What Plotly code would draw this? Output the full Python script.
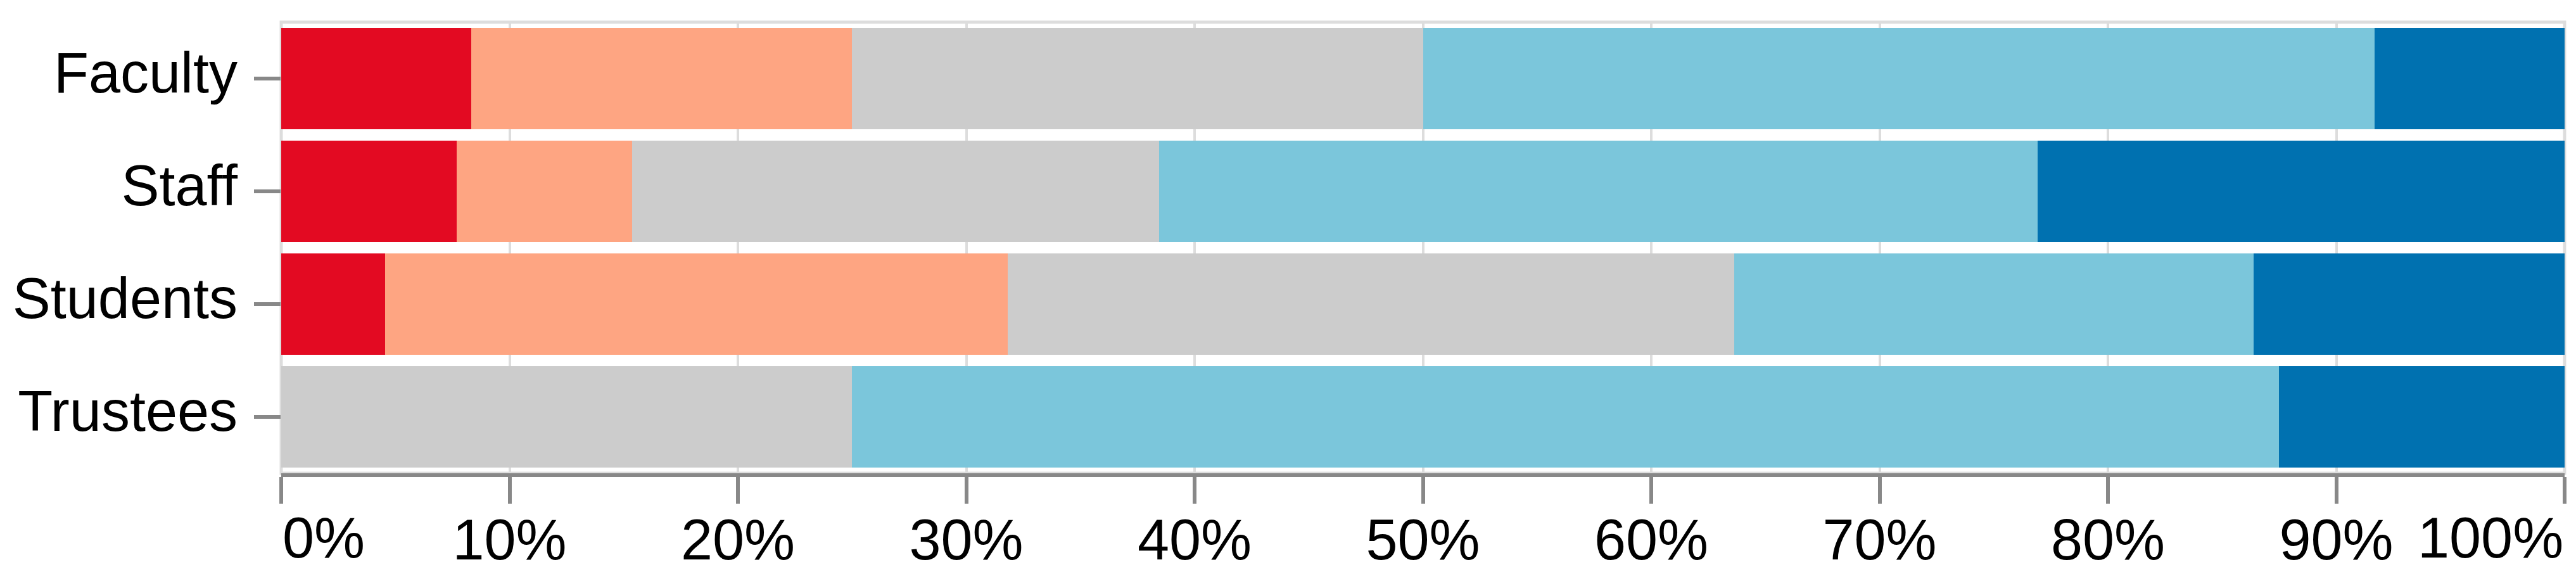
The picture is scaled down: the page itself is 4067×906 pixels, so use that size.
import plotly.graph_objects as go

# Data (percent of respondents per group)
groups = ["Faculty", "Staff", "Students", "Trustees"]
levels = ["Strongly disagree", "Disagree", "Neutral", "Agree", "Strongly agree"]
strongly_disagree = [8.33, 7.69, 4.55, 0.0]
disagree = [16.67, 7.69, 27.27, 0.0]
neutral = [25.0, 23.08, 31.82, 25.0]
agree = [41.67, 38.46, 22.73, 62.5]
strongly_agree = [8.33, 23.08, 13.64, 12.5]
tick_values = [0, 10, 20, 30, 40, 50, 60, 70, 80, 90, 100]

series = [strongly_disagree, disagree, neutral, agree, strongly_agree]
colors = ["#e30a22", "#fea582", "#cccccc", "#7bc6db", "#0071b0"]

fig = go.Figure()
for name, vals, col in zip(levels, series, colors):
    fig.add_trace(go.Bar(
        y=groups, x=vals, name=name, orientation="h",
        marker=dict(color=col, line=dict(width=0)),
        showlegend=False,
    ))

# end labels are flushed to the plot edges (added below as annotations)
inner_text = [f"{v}%" if 0 < v < 100 else "" for v in tick_values]

fig.update_layout(
    barmode="stack",
    bargap=0.1,
    width=4067, height=906,
    margin=dict(l=431, r=26, t=27, b=156),
    plot_bgcolor="white",
    paper_bgcolor="white",
    font=dict(family="Liberation Sans, Arial, sans-serif", size=90, color="black"),
    xaxis=dict(
        range=[0, 100],
        tickvals=tick_values,
        ticktext=inner_text,
        showgrid=True, gridcolor="#dddddd", gridwidth=4,
        zeroline=False,
        showline=True, linecolor="#888888", linewidth=6,
        ticks="outside", ticklen=42, tickwidth=6, tickcolor="#888888",
        ticklabelstandoff=-20,
        tickfont=dict(size=90),
    ),
    yaxis=dict(
        categoryorder="array", categoryarray=groups,
        autorange="reversed",
        showgrid=False, zeroline=False, showline=False,
        ticks="outside", ticklen=42, tickwidth=6, tickcolor="#888888",
        ticklabelstandoff=8, ticklabelshift=10,
        tickfont=dict(size=90),
    ),
    # light grey frame around the plot area
    shapes=[dict(type="rect", xref="paper", yref="paper", x0=0, x1=1, y0=0, y1=1,
                 line=dict(color="#dddddd", width=5), layer="below")],
)

for v, anchor in [(tick_values[0], "left"), (tick_values[-1], "right")]:
    fig.add_annotation(
        x=v, xref="x", y=0, yref="paper",
        text=f"{v}%", showarrow=False,
        xanchor=anchor, yanchor="top", yshift=-50,
        font=dict(size=90),
    )

fig.write_html("out.html")
